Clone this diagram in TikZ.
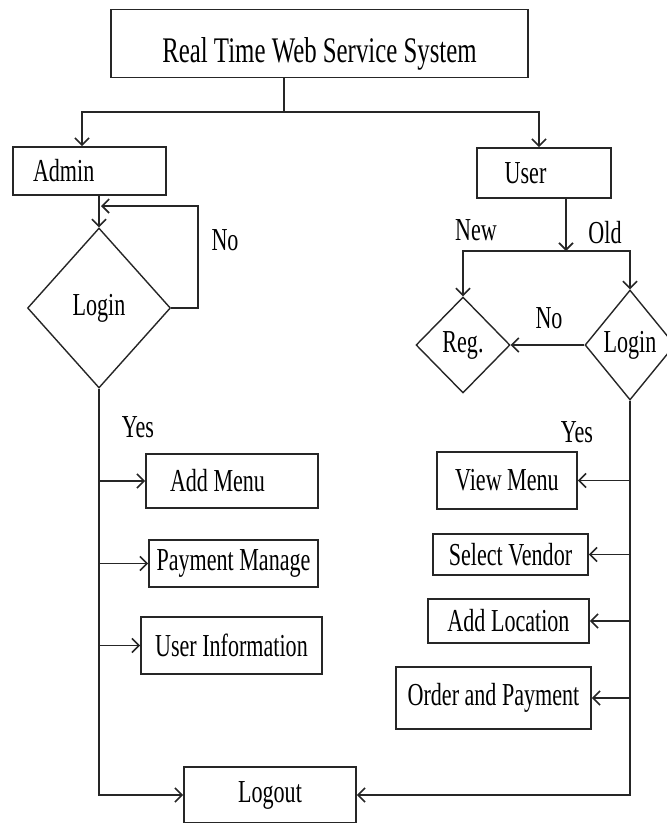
\documentclass[tikz,border=0pt]{standalone}
\usepackage{fontspec}
\setmainfont{Liberation Serif}[FakeStretch=0.69]
\usetikzlibrary{shapes.geometric,arrows.meta}

\begin{document}
\begin{tikzpicture}[yscale=-1]

  \tikzset{
    box/.style={
      rectangle,
      draw=black!85,
      line width=1.8pt,
      inner sep=0pt,
      font=\fontsize{32}{34}\selectfont,
      text centered
    },
    decision/.style={
      diamond,
      draw=black!85,
      line width=1.4pt,
      inner sep=0pt,
      font=\fontsize{32}{34}\selectfont
    },
    tag/.style={font=\fontsize{32}{34}\selectfont, inner sep=0pt},
    flow/.style={black!85, line width=1.7pt},
    arr/.style={flow, -{Straight Barb[length=7pt,width=14pt,line width=1.6pt]}}
  }

  \useasboundingbox (0pt,0pt) rectangle (667pt,823pt);

  \node[box, minimum width=417pt, minimum height=68pt, font=\fontsize{36}{38}\selectfont,
    text height=38pt, text depth=0pt, inner ysep=15pt] (title) at (319.5pt, 43.5pt) {Real Time Web Service System};

  \node[box, minimum height=48pt, text width=113pt, align=flush left, inner xsep=20pt] (admin) at (89.5pt, 171pt) {Admin};
  \node[box, minimum height=50pt, text width=78.6pt, align=flush left, inner xsep=27.7pt] (user) at (544pt, 173pt) {User};

  \node[decision, minimum width=143pt, minimum height=160pt] (llogin) at (99pt, 308pt) {Login};
  \node[decision, minimum width=94pt, minimum height=96pt] (reg) at (463pt, 345pt) {Reg.};
  \node[decision, minimum width=90pt, minimum height=110pt] (rlogin) at (630pt, 345pt) {Login};

  \node[box, minimum height=54pt, text width=124pt, align=flush left, inner xsep=24pt] (addmenu) at (232pt, 481pt) {Add Menu};
  \node[box, minimum width=169pt, minimum height=47pt] (paymanage) at (233.5pt, 563.5pt) {Payment Manage};
  \node[box, minimum width=181pt, minimum height=57pt] (userinfo) at (231.5pt, 645.5pt) {User Information};
  \node[box, minimum width=172pt, minimum height=56pt] (logout) at (270pt, 795pt) {Logout};

  \node[box, minimum width=140pt, minimum height=57pt] (viewmenu) at (507pt, 480.5pt) {View Menu};
  \node[box, minimum width=155pt, minimum height=41pt] (vendor) at (510.5pt, 554.5pt) {Select Vendor};
  \node[box, minimum width=161pt, minimum height=44pt] (location) at (508.5pt, 621pt) {Add Location};
  \node[box, minimum width=195pt, minimum height=62pt] (order) at (493.5pt, 698pt) {Order and Payment};

  \node[tag] (noA) at (225pt, 240pt) {No};
  \node[tag] (yesA) at (138pt, 427pt) {Yes};
  \node[tag] (newU) at (476pt, 230pt) {New};
  \node[tag] (oldU) at (605pt, 233pt) {Old};
  \node[tag] (noU) at (549pt, 318pt) {No};
  \node[tag] (yesU) at (577pt, 432pt) {Yes};

  % top split
  \coordinate (split) at (284pt, 112pt);
  \draw[flow] (title.south -| split) -- (split);
  \draw[arr] (split) -| ([xshift=-7.5pt]admin.north);
  \draw[arr] (split) -| ([xshift=-5pt]user.north);

  % admin side
  \coordinate (loopin) at (101pt, 206pt);
  \draw[arr] (admin.south -| llogin.north) -- (llogin.north);
  \draw[arr] (llogin.east) -- ++(27pt,0pt) |- (loopin);
  \draw[arr] (llogin.south) |- (logout.west);
  \draw[arr] (llogin.south |- addmenu.west) -- (addmenu.west);
  \draw[arr] (llogin.south |- paymanage.west) -- (paymanage.west);
  \draw[arr] (llogin.south |- userinfo.west) -- (userinfo.west);

  % user side
  \coordinate (ufork) at (566pt, 251pt);
  \draw[arr] (user.south -| ufork) -- (ufork);
  \draw[arr] (ufork) -| (reg.north);
  \draw[arr] (ufork) -| (rlogin.north);
  \draw[arr] (rlogin.west) -- (reg.east);
  \draw[arr] (rlogin.south) |- (logout.east);
  \draw[arr] (rlogin.south |- viewmenu.east) -- (viewmenu.east);
  \draw[arr] (rlogin.south |- vendor.east) -- (vendor.east);
  \draw[arr] (rlogin.south |- location.east) -- (location.east);
  \draw[arr] (rlogin.south |- order.east) -- (order.east);

\end{tikzpicture}
\end{document}
